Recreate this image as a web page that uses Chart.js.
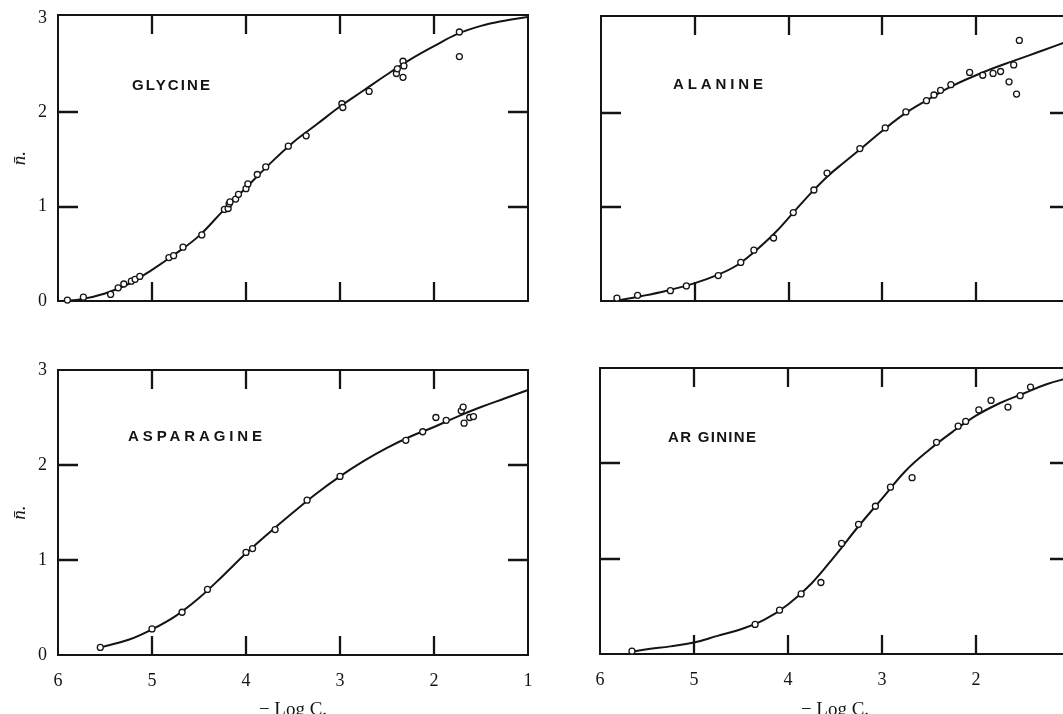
<!DOCTYPE html>
<html>
<head>
<meta charset="utf-8">
<script src="https://cdn.jsdelivr.net/npm/chart.js@4.4.1/dist/chart.umd.min.js"></script>
<style>
  html, body { margin: 0; padding: 0; background: #fff; overflow: hidden; width: 1063px; height: 714px; }
  canvas { position: absolute; }
</style>
</head>
<body>
<canvas id="c1" width="548" height="340" style="left:0px;top:-10px"></canvas>
<canvas id="c2" width="550" height="340" style="left:540px;top:-10px"></canvas>
<canvas id="c3" width="548" height="400" style="left:0px;top:340px"></canvas>
<canvas id="c4" width="550" height="400" style="left:540px;top:340px"></canvas>
<script>
// ---------- tick labels / tick marks ----------
const xTickLabels = [6, 5, 4, 3, 2, 1];
const yTickLabels = [0, 1, 2, 3];
const xTickMarks = [5, 4, 3, 2];
const yTickMarks = [1, 2];
const xTitle = '\u2212 Log C.';
const yTitle = 'n\u0304.';
const panelNames = ['GLYCINE', 'ALANINE', 'ASPARAGINE', 'AR GININE'];

// ---------- Glycine ----------
const glyPtX = [5.90,5.73,5.44,5.36,5.30,5.22,5.18,5.13,4.82,4.77,4.67,4.47,4.23,4.19,4.18,4.17,4.11,4.08,4.00,3.98,3.88,3.79,3.55,3.36,2.98,2.97,2.69,2.40,2.39,2.33,2.32,2.33,1.73,1.73];
const glyPtY = [0.01,0.04,0.07,0.14,0.18,0.21,0.23,0.26,0.46,0.48,0.57,0.70,0.97,0.98,1.03,1.05,1.08,1.13,1.19,1.24,1.34,1.42,1.64,1.75,2.09,2.05,2.22,2.41,2.46,2.54,2.49,2.37,2.85,2.59];
const glyCurveX = [5.95,5.75,5.50,5.25,5.00,4.75,4.50,4.25,4.00,3.75,3.50,3.25,3.00,2.75,2.50,2.25,2.00,1.75,1.50,1.25,1.00];
const glyCurveY = [0.00,0.02,0.08,0.18,0.33,0.50,0.69,0.95,1.20,1.45,1.68,1.87,2.06,2.23,2.40,2.56,2.70,2.83,2.915,2.97,3.01];

// ---------- Alanine ----------
const alaPtX = [5.83,5.61,5.26,5.09,4.75,4.51,4.37,4.16,3.95,3.73,3.59,3.24,2.97,2.75,2.53,2.45,2.38,2.27,2.07,1.93,1.82,1.74,1.60,1.65,1.57,1.54];
const alaPtY = [0.03,0.06,0.11,0.16,0.27,0.41,0.54,0.67,0.94,1.18,1.36,1.62,1.84,2.01,2.13,2.19,2.24,2.30,2.43,2.40,2.42,2.44,2.51,2.33,2.20,2.77];
const alaCurveX = [5.85,5.58,5.30,5.00,4.75,4.55,4.38,4.15,3.95,3.75,3.58,3.40,3.24,3.00,2.75,2.50,2.27,1.93,1.61,1.30,1.00];
const alaCurveY = [0.00,0.05,0.11,0.19,0.28,0.38,0.51,0.72,0.94,1.16,1.33,1.48,1.61,1.81,2.00,2.15,2.28,2.43,2.55,2.66,2.77];

// ---------- Asparagine ----------
const aspPtX = [5.55,5.00,4.68,4.41,4.00,3.93,3.69,3.35,3.00,2.30,2.12,1.98,1.87,1.71,1.69,1.68,1.62,1.58];
const aspPtY = [0.08,0.275,0.45,0.69,1.08,1.12,1.32,1.63,1.88,2.26,2.35,2.50,2.47,2.57,2.61,2.44,2.50,2.51];
const aspCurveX = [5.55,5.25,5.00,4.75,4.50,4.25,4.00,3.75,3.50,3.25,3.00,2.75,2.50,2.25,2.00,1.75,1.50,1.25,1.00];
const aspCurveY = [0.08,0.16,0.27,0.41,0.60,0.83,1.07,1.29,1.50,1.70,1.88,2.04,2.18,2.30,2.40,2.51,2.61,2.70,2.79];

// ---------- Arginine ----------
const argPtX = [5.66,4.35,4.09,3.86,3.65,3.43,3.25,3.07,2.91,2.68,2.42,2.19,2.11,1.97,1.84,1.66,1.53,1.42];
const argPtY = [0.03,0.31,0.46,0.63,0.75,1.16,1.36,1.55,1.75,1.85,2.22,2.39,2.44,2.56,2.66,2.59,2.71,2.80];
const argCurveX = [5.68,5.50,5.25,5.00,4.75,4.50,4.25,4.00,3.75,3.50,3.25,3.00,2.75,2.50,2.25,2.00,1.75,1.50,1.25,1.00];
const argCurveY = [0.02,0.05,0.08,0.12,0.19,0.26,0.36,0.52,0.74,1.03,1.34,1.63,1.92,2.14,2.33,2.50,2.63,2.73,2.83,2.90];

const INK = '#141414';
const SERIF = "'Liberation Serif', 'DejaVu Serif', serif";

const framePlugin = {
  id: 'frame',
  beforeDatasetsDraw(chart, args, opts) {
    const {ctx, chartArea: a, scales} = chart;
    const x = scales.x, y = scales.y;
    ctx.save();
    ctx.strokeStyle = INK;
    ctx.lineCap = 'butt';
    ctx.lineWidth = 2;
    ctx.strokeRect(a.left, a.top, a.right - a.left, a.bottom - a.top);
    ctx.lineWidth = 2.3;
    ctx.beginPath();
    xTickMarks.forEach(v => {
      const p = Math.round(x.getPixelForValue(v));
      ctx.moveTo(p, a.top); ctx.lineTo(p, a.top + 19);
      ctx.moveTo(p, a.bottom); ctx.lineTo(p, a.bottom - 19);
    });
    yTickMarks.forEach(v => {
      const p = Math.round(y.getPixelForValue(v));
      ctx.moveTo(a.left, p); ctx.lineTo(a.left + 20, p);
      ctx.moveTo(a.right, p); ctx.lineTo(a.right - 20, p);
    });
    ctx.stroke();
    ctx.restore();
  },
  afterDraw(chart, args, opts) {
    if (!opts.label) return;
    const {ctx, chartArea: a} = chart;
    ctx.save();
    ctx.fillStyle = INK;
    ctx.font = "bold 15px 'Liberation Sans', Arial, sans-serif";
    ctx.textBaseline = 'middle';
    ctx.textAlign = 'left';
    const txt = opts.label;
    ctx.letterSpacing = '0px';
    const w = ctx.measureText(txt).width;
    const n = txt.length;
    const sp = Math.max(0, (opts.width - w) / (n - 1));
    ctx.letterSpacing = sp.toFixed(2) + 'px';
    ctx.fillText(txt, a.left + opts.dx, a.top + opts.dy);
    ctx.restore();
  }
};

function makeChart(id, cfg) {
  const pts = cfg.ptX.map((v, i) => ({x: v, y: cfg.ptY[i]}));
  const curve = cfg.cX.map((v, i) => ({x: v, y: cfg.cY[i]}));
  return new Chart(document.getElementById(id), {
    type: 'scatter',
    data: {
      datasets: [
        {
          type: 'scatter', data: pts, order: 1, clip: false,
          pointRadius: 3, pointBorderWidth: 1.3,
          pointBorderColor: INK, pointBackgroundColor: '#fff',
          pointHoverRadius: 3
        },
        {
          type: 'line', data: curve, order: 2, clip: false,
          borderColor: INK, borderWidth: 2, pointRadius: 0,
          tension: 0.4, fill: false
        }
      ]
    },
    options: {
      responsive: false, animation: false, events: [],
      layout: {padding: {left: 0, right: 20, top: cfg.padTop, bottom: 0}},
      plugins: {
        legend: {display: false}, tooltip: {enabled: false},
        frame: {label: cfg.label, dx: cfg.dx, dy: cfg.dy, width: cfg.lw}
      },
      scales: {
        x: {
          type: 'linear', min: 1, max: 6, reverse: true,
          grid: {display: false, drawTicks: false}, border: {display: false},
          afterBuildTicks: s => { s.ticks = xTickLabels.map(v => ({value: v})); },
          afterFit: s => { s.height = cfg.xH; },
          ticks: {display: cfg.xLabels, padding: 15, color: INK,
                  font: {family: SERIF, size: 18}},
          title: {display: cfg.xLabels, text: xTitle, color: INK,
                  font: {family: SERIF, size: 19}, padding: {top: 0, bottom: 19}}
        },
        y: {
          type: 'linear', min: 0, max: cfg.yMax,
          grid: {display: false, drawTicks: false}, border: {display: false},
          afterBuildTicks: s => { s.ticks = yTickLabels.map(v => ({value: v})); },
          afterFit: s => { s.width = cfg.yW; },
          ticks: {display: cfg.yLabels, padding: 11, color: INK,
                  font: {family: SERIF, size: 18}},
          title: {display: cfg.yLabels, text: yTitle, color: INK,
                  font: {family: SERIF, size: 19, style: 'italic'}, padding: {top: 9, bottom: 0}}
        }
      }
    },
    plugins: [framePlugin]
  });
}

makeChart('c1', {ptX: glyPtX, ptY: glyPtY, cX: glyCurveX, cY: glyCurveY,
  padTop: 25, xH: 29, yW: 58, yMax: 3.03, xLabels: false, yLabels: true,
  label: panelNames[0], dx: 74, dy: 71, lw: 78});
makeChart('c2', {ptX: alaPtX, ptY: alaPtY, cX: alaCurveX, cY: alaCurveY,
  padTop: 26, xH: 29, yW: 61, yMax: 3.03, xLabels: false, yLabels: false,
  label: panelNames[1], dx: 72, dy: 69, lw: 90});
makeChart('c3', {ptX: aspPtX, ptY: aspPtY, cX: aspCurveX, cY: aspCurveY,
  padTop: 30, xH: 85, yW: 58, yMax: 3.0, xLabels: true, yLabels: true,
  label: panelNames[2], dx: 70, dy: 67, lw: 134});
makeChart('c4', {ptX: argPtX, ptY: argPtY, cX: argCurveX, cY: argCurveY,
  padTop: 28, xH: 86, yW: 60, yMax: 3.0, xLabels: true, yLabels: false,
  label: panelNames[3], dx: 68, dy: 70, lw: 88});
</script>
</body>
</html>
